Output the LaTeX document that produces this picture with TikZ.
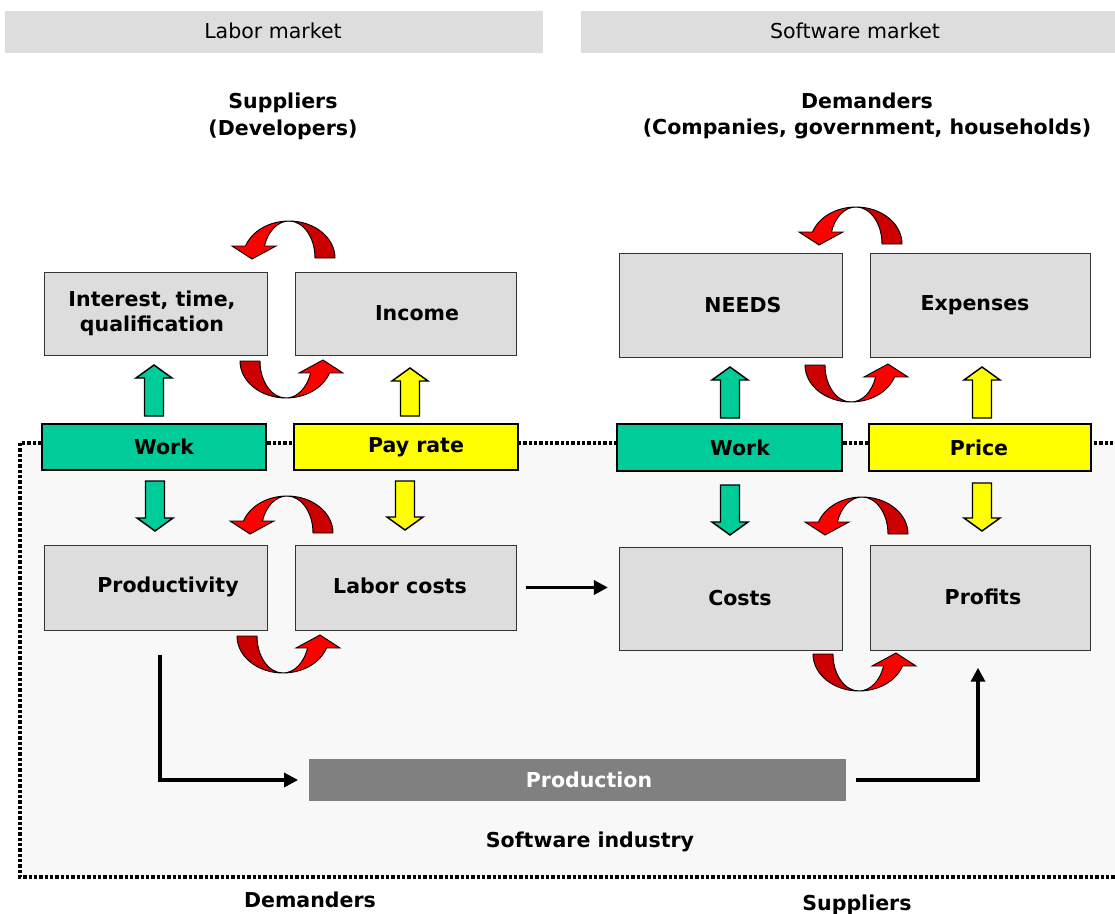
\documentclass[tikz,border=0pt]{standalone}
\usepackage{fontspec}
\setmainfont{DejaVu Sans}
\usetikzlibrary{fit,calc,arrows.meta}
\definecolor{boxgray}{HTML}{DDDDDD}
\definecolor{bggray}{HTML}{F8F8F8}
\definecolor{prodgray}{HTML}{808080}
\definecolor{kgreen}{HTML}{00CC99}
\definecolor{kyellow}{HTML}{FFFF00}
\definecolor{kred}{HTML}{FF0000}
\definecolor{kdarkred}{HTML}{CC0000}
\newcommand\blkup[4]{\filldraw[blockarr, fill=#4] ({#1-9.5},#3) -- ({#1-9.5},{#2+13}) -- ({#1-18},{#2+13}) -- (#1,#2) -- ({#1+18},{#2+13}) -- ({#1+9.5},{#2+13}) -- ({#1+9.5},#3) -- cycle;}
\newcommand\blkdown[4]{\filldraw[blockarr, fill=#4] ({#1-9.5},#2) -- ({#1-9.5},{#3-13}) -- ({#1-18},{#3-13}) -- (#1,#3) -- ({#1+18},{#3-13}) -- ({#1+9.5},{#3-13}) -- ({#1+9.5},#2) -- cycle;}
\newcommand\swoosh[1]{%
  \begin{scope}[#1]
    \filldraw[fill=kdarkred, draw=black, line width=0.7pt] (0:46 and 37) arc[start angle=0,end angle=90,x radius=46,y radius=37] arc[start angle=90,end angle=0,x radius=26,y radius=37] -- cycle;
    \filldraw[fill=kred, draw=black, line width=0.7pt] (90:46 and 37) arc[start angle=90,end angle=161.1,x radius=46,y radius=37] -- (-57,12) -- (-37,-1) -- (-13,12) -- (161.1:26 and 37) arc[start angle=161.1,end angle=90,x radius=26,y radius=37] -- cycle;
  \end{scope}}
\begin{document}
\begin{tikzpicture}[x=0.75pt,y=-0.75pt,
  box/.style={draw=black!80, line width=0.6pt, fill=boxgray, inner sep=0pt},
  keybox/.style={draw=black, line width=2.2pt, fill=#1, inner sep=0pt},
  hdr/.style={fill=boxgray, inner sep=0pt},
  btxt/.style={font=\fontsize{15.4}{19}\selectfont\bfseries, align=center, inner sep=0pt},
  ntxt/.style={font=\fontsize{15.4}{19}\selectfont, align=center, inner sep=0pt},
  blockarr/.style={draw=black, line width=1.1pt},
  conn/.style={draw=black, line width=2.5pt, -{Triangle[length=10.5pt,width=10.5pt]}}]
\useasboundingbox (0,0) rectangle (1115,914);
\fill[white] (0,0) rectangle (1115,914);
% headers
\node[hdr, fit={(5,11)(543,53)}] (hlabor) {};
\node[hdr, fit={(581,11)(1118,53)}] (hsoft) {};
\node[ntxt] (tlabor) at (273,31) {Labor market};
\node[ntxt] (tsoft) at (855,31) {Software market};
\node[btxt, font=\fontsize{15.4}{20}\selectfont\bfseries] (tsup) at (283,116) {Suppliers\\(Developers)};
\node[btxt, font=\fontsize{15.4}{20}\selectfont\bfseries] (tdem) at (867,116) {Demanders\\(Companies, government, households)};
% industry area
\filldraw[fill=bggray, draw=black, line width=2.8pt, dash pattern=on 2.6pt off 1.4pt] (20,443) rectangle (1130,877);
% boxes
\node[box, fit={(44,272)(267,355)}] (interest) {};
\node[box, fit={(295,272)(516,355)}] (income) {};
\node[box, fit={(619,253)(842,357)}] (needs) {};
\node[box, fit={(870,253)(1090,357)}] (expenses) {};
\node[box, fit={(44,545)(267,630)}] (productivity) {};
\node[box, fit={(295,545)(516,630)}] (laborcosts) {};
\node[box, fit={(619,547)(842,650)}] (costs) {};
\node[box, fit={(870,545)(1090,650)}] (profits) {};
\node[keybox=kgreen, fit={(42,424)(266,470)}] (work1) {};
\node[keybox=kyellow, fit={(294,424)(518,470)}] (payrate) {};
\node[keybox=kgreen, fit={(617,424)(842,471)}] (work2) {};
\node[keybox=kyellow, fit={(869,424)(1091,471)}] (price) {};
\node[fill=prodgray, inner sep=0pt, fit={(309,759)(846,801)}] (production) {};
% texts
\node[btxt] (tinterest) at (152,313.5) {Interest, time,\\qualification};
\node[btxt] (tincome) at (417,313) {Income};
\node[btxt] (tneeds) at (743,305) {NEEDS};
\node[btxt] (texpenses) at (975,305) {Expenses};
\node[btxt] (twork1) at (164,447) {Work};
\node[btxt] (tpay) at (416,447) {Pay rate};
\node[btxt] (twork2) at (740,448) {Work};
\node[btxt] (tprice) at (979,448) {Price};
\node[btxt] (tprod) at (168,587) {Productivity};
\node[btxt] (tlabc) at (400,586) {Labor costs};
\node[btxt] (tcosts) at (740,598) {Costs};
\node[btxt] (tprofits) at (983,597) {Profits};
\node[btxt, text=white] (tproduction) at (589,780) {Production};
\node[btxt] (tindustry) at (590,842) {Software industry};
\node[btxt] (tdem2) at (310,900) {Demanders};
\node[btxt] (tsup2) at (857,905) {Suppliers};
% block arrows
\blkup{154}{365}{416}{kgreen}
\blkup{410}{368}{416}{kyellow}
\blkdown{155}{481}{531}{kgreen}
\blkdown{405}{481}{530}{kyellow}
\blkup{730}{367}{418}{kgreen}
\blkup{982}{367}{418}{kyellow}
\blkdown{730}{485}{535}{kgreen}
\blkdown{982}{483}{531}{kyellow}
% curved arrows
\swoosh{shift={(289,258)}, yscale=-1}
\swoosh{shift={(286,361)}, rotate=180, yscale=-1}
\swoosh{shift={(287,533)}, yscale=-1}
\swoosh{shift={(283,636)}, rotate=180, yscale=-1}
\swoosh{shift={(856,244)}, yscale=-1}
\swoosh{shift={(851,365)}, rotate=180, yscale=-1}
\swoosh{shift={(862,534)}, yscale=-1}
\swoosh{shift={(859,654)}, rotate=180, yscale=-1}
% connectors
\draw[conn, shorten <=7pt, shorten >=8pt] (laborcosts.east) -- (costs.west |- laborcosts.east);
\draw[conn, shorten >=8pt] ($(productivity.south)+(4.5,25)$) |- (production.west);
\draw[conn, shorten <=7pt, shorten >=13pt] (production.east) -| ($(profits.south)+(-2,0)$);
\end{tikzpicture}
\end{document}
